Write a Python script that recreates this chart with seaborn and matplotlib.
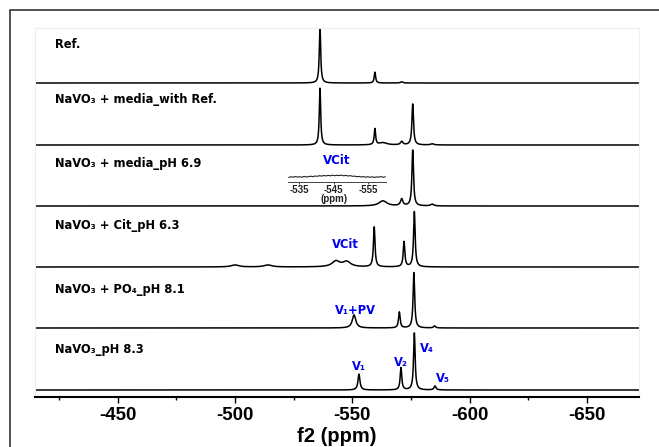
import numpy as np
import pandas as pd
import seaborn as sns
import matplotlib.pyplot as plt
from matplotlib.patches import Rectangle

# spectra: peak positions (ppm), relative heights, half widths (ppm)
labels = ["Ref.",
          "NaVO₃ + media_with Ref.",
          "NaVO₃ + media_pH 6.9",
          "NaVO₃ + Cit_pH 6.3",
          "NaVO₃ + PO₄_pH 8.1",
          "NaVO₃_pH 8.3"]

ref_pos = [-536.2, -559.6, -571.0]
ref_h = [98, 19, 2]
ref_w = [0.35, 0.35, 0.6]

media_ref_pos = [-536.2, -559.6, -563.0, -571.0, -575.7, -584.0]
media_ref_h = [100, 28, 4, 6, 72, 2]
media_ref_w = [0.35, 0.35, 2.0, 0.6, 0.4, 0.8]

media_pos = [-563.0, -571.0, -575.7, -584.0]
media_h = [9, 12, 98, 3]
media_w = [2.0, 0.6, 0.4, 0.8]

cit_pos = [-500.0, -514.0, -543.0, -547.6, -559.3, -572.0, -576.4]
cit_h = [3.5, 3.5, 10, 9, 70, 44, 97]
cit_w = [2.0, 2.0, 2.0, 2.0, 0.4, 0.4, 0.4]

po4_pos = [-550.7, -570.0, -576.2, -585.0]
po4_h = [23, 28, 97, 3.5]
po4_w = [0.9, 0.4, 0.4, 0.5]

ph83_pos = [-552.8, -570.7, -576.4, -585.2]
ph83_h = [28, 39, 100, 7]
ph83_w = [0.5, 0.4, 0.4, 0.5]

spectra = [(ref_pos, ref_h, ref_w), (media_ref_pos, media_ref_h, media_ref_w),
           (media_pos, media_h, media_w), (cit_pos, cit_h, cit_w),
           (po4_pos, po4_h, po4_w), (ph83_pos, ph83_h, ph83_w)]

# inset trace (VCit region, media pH 6.9)
inset_vals = [4.6, 5.2, 4.8, 5.5, 4.9, 5.3, 4.7, 5.6, 5.0, 5.4, 5.8, 5.3, 6.0, 5.7, 6.3,
              5.9, 6.5, 6.1, 6.6, 6.2, 6.8, 6.3, 6.7, 6.4, 6.9, 6.2, 6.6, 6.0, 6.4, 5.7,
              5.9, 5.3, 5.6, 5.0, 5.4, 4.8, 5.3, 4.7, 5.2, 4.6, 5.1, 4.9, 5.4, 4.7, 5.2]

# blue annotations: text, ppm, row, height above baseline
annotations = [("VCit", -546.9, 3, 22),
               ("V₁+PV", -551.4, 4, 17),
               ("V₁", -552.8, 5, 23),
               ("V₂", -570.7, 5, 28),
               ("V₄", -581.7, 5, 41),
               ("V₅", -588.6, 5, 11)]

sns.set_style("white")
plt.rcParams['font.family'] = ['Liberation Sans', 'DejaVu Sans']
plt.rcParams['axes.unicode_minus'] = False
plt.rcParams['text.color'] = 'black'
plt.rcParams['xtick.color'] = 'black'
plt.rcParams['axes.labelcolor'] = 'black'

fig = plt.figure(figsize=(6.59, 4.47), dpi=100)
ax = fig.add_axes([35 / 659, 50 / 447, 604 / 659, 369 / 447])

offsets = [314, 252, 191, 130, 69, 7]
scale = 0.57
x = np.linspace(-414.8, -672.1, 6000)

frames = []
for i, (pos, h, w) in enumerate(spectra):
    y = np.zeros_like(x)
    for p, hh, ww in zip(pos, h, w):
        y += hh * ww ** 2 / ((x - p) ** 2 + ww ** 2)
    frames.append(pd.DataFrame({"ppm": x, "y": offsets[i] + y * scale, "row": i}))
df = pd.concat(frames)

sns.lineplot(data=df, x="ppm", y="y", units="row", estimator=None,
             color="black", lw=1.1, ax=ax, sort=False)

label_y = [352, 297, 234, 172, 107, 47]
for lab, ly in zip(labels, label_y):
    ax.text(-423.2, ly, lab, fontsize=8.3, fontweight="bold", va="center", ha="left",
            family="DejaVu Sans")

for txt, p, row, dy in annotations:
    ax.text(p, offsets[row] + dy, txt, color="#0000ee", fontsize=8.3,
            fontweight="bold", ha="center", va="center", family="DejaVu Sans")

ax.set_xlim(-414.8, -672.1)
ax.set_ylim(0, 369)
ax.set_yticks([])
ax.set_xticks([-450, -500, -550, -600, -650])
ax.set_xticks([-425, -475, -525, -575, -625], minor=True)
ax.tick_params(axis="x", which="major", direction="out", length=4, width=1,
               labelsize=13.5, pad=3, bottom=True)
ax.tick_params(axis="x", which="minor", direction="out", length=2, width=1, bottom=True)
for lbl in ax.get_xticklabels():
    lbl.set_fontweight("bold")
ax.set_xlabel("f2 (ppm)", fontsize=14.5, fontweight="bold", labelpad=2)
ax.set_ylabel("")
for s in ["top", "right", "left"]:
    ax.spines[s].set_color("#eeeeee")
    ax.spines[s].set_linewidth(0.8)
ax.spines["bottom"].set_color("black")
ax.spines["bottom"].set_linewidth(1.5)

# inset
axin = fig.add_axes([288 / 659, (447 - 182) / 447, 98 / 659, 14 / 447])
idf = pd.DataFrame({"ppm": np.linspace(-532, -560, len(inset_vals)), "v": inset_vals})
sns.lineplot(data=idf, x="ppm", y="v", color="#222222", lw=0.8, ax=axin)
axin.set_xlim(-531.8, -560.2)
axin.set_ylim(0, 14)
axin.set_yticks([])
axin.set_xticks([-535, -545, -555])
axin.set_xlabel("")
axin.set_ylabel("")
axin.tick_params(axis="x", length=1.5, width=0.6, labelsize=7, pad=0.5, bottom=True,
                 colors="#222222")
for lbl in axin.get_xticklabels():
    lbl.set_fontweight("bold")
for s in ["top", "right", "left"]:
    axin.spines[s].set_visible(False)
axin.spines["bottom"].set_linewidth(0.7)
axin.spines["bottom"].set_color("#444444")
fig.text(337 / 659, 1 - 161 / 447, "VCit", color="#0000ee", fontsize=8.5,
         fontweight="bold", ha="center", va="center", family="DejaVu Sans")
fig.text(334 / 659, 1 - 198.5 / 447, "(ppm)", color="#222222", fontsize=7,
         fontweight="bold", ha="center", va="center")

# outer frame
fig.patches.append(Rectangle((10 / 659, -0.2), 1.2, 1.2 - 10 / 447,
                             transform=fig.transFigure, fill=False,
                             edgecolor="#333333", lw=1.2))

fig.savefig("out.png", dpi=100)
